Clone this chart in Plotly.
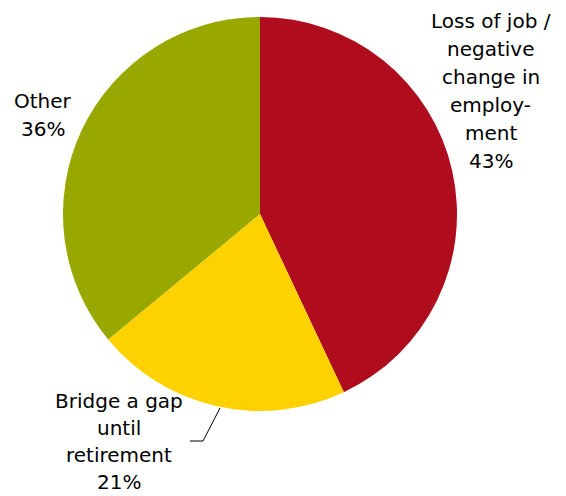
import plotly.graph_objects as go

categories = ["Loss of job / negative change in employment", "Bridge a gap until retirement", "Other"]
values = [43, 21, 36]
colors = ["#AF0C1E", "#FDD200", "#99A800"]
label_lines = [
    ["Loss of job /", "negative", "change in", "employ-", "ment", "43%"],
    ["Bridge a gap", "until", "retirement", "21%"],
    ["Other", "36%"],
]

W, H = 566, 496
cx, cy, r = 260, 214, 197

fig = go.Figure(go.Pie(
    labels=categories, values=values, sort=False, direction="clockwise", rotation=0,
    marker=dict(colors=colors, line=dict(width=0)),
    textinfo="none", hoverinfo="label+percent", showlegend=False,
    domain=dict(x=[(cx - r) / W, (cx + r) / W], y=[1 - (cy + r) / H, 1 - (cy - r) / H]),
))

# label anchor positions (center x, first line center y, line spacing px)
anchors = [(491, 21, 28), (119, 401, 27), (43, 101, 28)]
annotations = []
for lines, (ax, ay, sp) in zip(label_lines, anchors):
    for i, t in enumerate(lines):
        annotations.append(dict(
            text=t, x=ax / W, y=1 - (ay + i * sp) / H, xref="paper", yref="paper",
            xanchor="center", yanchor="middle", showarrow=False, borderpad=0,
            font=dict(family="DejaVu Sans, Verdana, sans-serif", size=20, color="#000000"),
        ))

fig.update_layout(
    width=W, height=H, margin=dict(l=0, r=0, t=0, b=0),
    paper_bgcolor="white", plot_bgcolor="white",
    annotations=annotations,
    shapes=[dict(type="path", xref="paper", yref="paper",
                 path=f"M {190/W} {1-441/H} L {203/W} {1-441/H} L {220/W} {1-408/H}",
                 line=dict(color="black", width=1))],
)

fig.write_html("out.html")
